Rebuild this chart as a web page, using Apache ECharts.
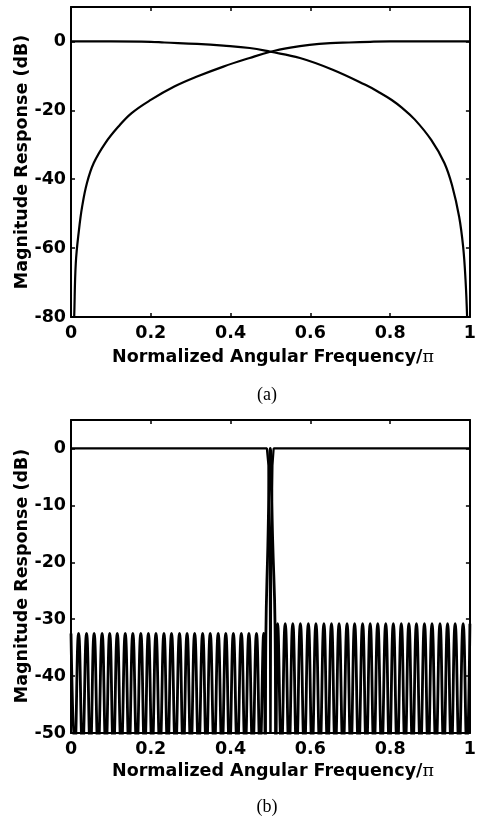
<!DOCTYPE html>
<html>
<head>
<meta charset="utf-8">
<script src="https://cdn.jsdelivr.net/npm/echarts@6/dist/echarts.min.js"></script>
<style>
  html, body { margin: 0; padding: 0; background: #fff; }
  #chart { width: 479px; height: 821px; }
</style>
</head>
<body>
<div id="chart"></div>
<script>
// (a) lowpass / highpass pair, dB
var lowX  = [0, 0.1, 0.2, 0.234, 0.316, 0.382, 0.448, 0.5, 0.574, 0.656, 0.738, 0.77, 0.804, 0.83, 0.862, 0.903, 0.936, 0.956, 0.973, 0.983, 0.989, 0.993, 0.995];
var lowDb = [0, 0, -0.1, -0.3, -0.7, -1.2, -1.9, -3.0, -4.8, -8.2, -12.6, -14.6, -17.0, -19.3, -22.7, -28.6, -35.3, -42.1, -50.9, -59.6, -69.2, -80, -90];
var highX  = [0.005, 0.008, 0.012, 0.02, 0.028, 0.04, 0.057, 0.086, 0.119, 0.152, 0.201, 0.259, 0.316, 0.382, 0.448, 0.5, 0.55, 0.598, 0.65, 0.697, 0.75, 0.8, 0.9, 1.0];
var highDb = [-90, -80, -64.4, -54.7, -47.9, -41.1, -35.3, -29.5, -24.7, -20.8, -16.9, -13.1, -10.2, -7.3, -4.8, -3.0, -1.8, -1.0, -0.5, -0.3, -0.1, 0, 0, 0];

// (b) notch filter and its complementary bandpass
var notchX  = [0, 0.491, 0.495, 0.4985, 0.5, 0.5015, 0.505, 0.508, 1];
var notchDb = [0, 0, -3, -20, -60, -20, -3, 0, 0];

var leftPeakX = [0.000, 0.019, 0.039, 0.058, 0.078, 0.097, 0.116, 0.136, 0.155, 0.175, 0.194, 0.213, 0.233,
                 0.252, 0.272, 0.291, 0.310, 0.330, 0.349, 0.369, 0.388, 0.407, 0.427, 0.446, 0.465, 0.483];
var leftNullX = [0.0095, 0.029, 0.0485, 0.068, 0.0875, 0.1065, 0.126, 0.1455, 0.165, 0.1845, 0.2035, 0.223, 0.2425,
                 0.262, 0.2815, 0.3005, 0.32, 0.3395, 0.359, 0.3785, 0.3975, 0.417, 0.4365, 0.4555, 0.474, 0.487];
var spikeX  = [0.4885, 0.4935, 0.4995, 0.5055, 0.5115];
var spikeDb = [-33, -17, 0, -16, -31];
var rightNullX = [0.5135, 0.5275, 0.5465, 0.5655, 0.585, 0.6045, 0.624, 0.6435, 0.6625, 0.682, 0.7015, 0.721, 0.7405,
                  0.7595, 0.779, 0.7985, 0.818, 0.8375, 0.8565, 0.876, 0.8955, 0.915, 0.9345, 0.9535, 0.973, 0.9925];
var rightPeakX = [0.518, 0.537, 0.556, 0.575, 0.595, 0.614, 0.634, 0.653, 0.672, 0.692, 0.711, 0.731, 0.750,
                  0.769, 0.789, 0.808, 0.828, 0.847, 0.866, 0.886, 0.905, 0.925, 0.944, 0.963, 0.983, 1.000];
var leftPeakDb = -32.5;
var rightPeakDb = -30.8;
var nullDb = -53;

var font = 'DejaVu Sans';
var fsz = 17.5;

function pairs(xs, ys) {
  return xs.map(function (x, i) { return [x, ys[i]]; });
}

var bandData = [];
leftPeakX.forEach(function (x, i) {
  bandData.push([x, leftPeakDb]);
  bandData.push([leftNullX[i], nullDb]);
});
spikeX.forEach(function (x, i) {
  bandData.push([x, spikeDb[i]]);
});
rightPeakX.forEach(function (x, i) {
  bandData.push([rightNullX[i], nullDb]);
  bandData.push([x, rightPeakDb]);
});

var tickStyle = { inside: true, length: 4, lineStyle: { color: '#000', width: 1.5 } };
var lineAx = { onZero: false, lineStyle: { color: '#000', width: 2 } };
var lblStyle = { color: '#000', fontFamily: font, fontWeight: 'bold', fontSize: fsz };

function xAxes(gi) {
  return [
    {
      type: 'value', gridIndex: gi, min: 0, max: 1, interval: 0.2, position: 'bottom',
      axisLine: lineAx, axisTick: tickStyle, splitLine: { show: false },
      axisLabel: Object.assign({ margin: 7 }, lblStyle)
    },
    {
      type: 'value', gridIndex: gi, min: 0, max: 1, interval: 0.2, position: 'top',
      axisLine: lineAx, axisTick: tickStyle, splitLine: { show: false },
      axisLabel: { show: false }
    }
  ];
}

function yAxes(gi, min, max, step) {
  return [
    {
      type: 'value', gridIndex: gi, min: min, max: max, interval: step, position: 'left',
      axisLine: lineAx, axisTick: tickStyle, splitLine: { show: false },
      axisLabel: Object.assign({ margin: 5, showMaxLabel: false }, lblStyle)
    },
    {
      type: 'value', gridIndex: gi, min: min, max: max, interval: step, position: 'right',
      axisLine: lineAx, axisTick: tickStyle, splitLine: { show: false },
      axisLabel: { show: false }
    }
  ];
}

function curve(data, xi, yi, smooth, width) {
  return {
    type: 'line', data: data, xAxisIndex: xi, yAxisIndex: yi,
    showSymbol: false, smooth: smooth,
    lineStyle: { color: '#000', width: width }, animation: false
  };
}

var chart = echarts.init(document.getElementById('chart'), null, { renderer: 'canvas' });

var titleText = {
  text: '{a|Normalized Angular Frequency/}{b|π}',
  align: 'center', verticalAlign: 'middle',
  rich: {
    a: { fontFamily: font, fontWeight: 'bold', fontSize: fsz, fill: '#000' },
    b: { fontFamily: 'DejaVu Serif', fontSize: fsz, fill: '#000' }
  }
};
var yTitle = {
  text: 'Magnitude Response (dB)', align: 'center', verticalAlign: 'middle',
  fontFamily: font, fontWeight: 'bold', fontSize: fsz, fill: '#000'
};

chart.setOption({
  backgroundColor: '#fff',
  animation: false,
  grid: [
    { left: 71, top: 7, width: 405, height: 310 },
    { left: 71, top: 420, width: 405, height: 313 }
  ],
  xAxis: xAxes(0).concat(xAxes(1)),
  yAxis: yAxes(0, -80, 10, 20).concat(yAxes(1, -50, 5, 10)),
  series: [
    curve(pairs(lowX, lowDb), 0, 0, 0.4, 2.2),
    curve(pairs(highX, highDb), 0, 0, 0.4, 2.2),
    curve(pairs(notchX, notchDb), 2, 2, false, 2.2),
    curve(bandData, 2, 2, 0.5, 2.8)
  ],
  graphic: [
    { type: 'text', x: 273, y: 357, style: titleText },
    { type: 'text', x: 273, y: 771, style: titleText },
    { type: 'text', x: 22, y: 162, rotation: Math.PI / 2, style: yTitle },
    { type: 'text', x: 22, y: 576, rotation: Math.PI / 2, style: yTitle },
    {
      type: 'text', x: 267, y: 395,
      style: { text: '(a)', align: 'center', verticalAlign: 'middle',
               fontFamily: 'Liberation Serif', fontSize: 18, fill: '#000' }
    },
    {
      type: 'text', x: 267, y: 807,
      style: { text: '(b)', align: 'center', verticalAlign: 'middle',
               fontFamily: 'Liberation Serif', fontSize: 18, fill: '#000' }
    }
  ]
});
</script>
</body>
</html>
